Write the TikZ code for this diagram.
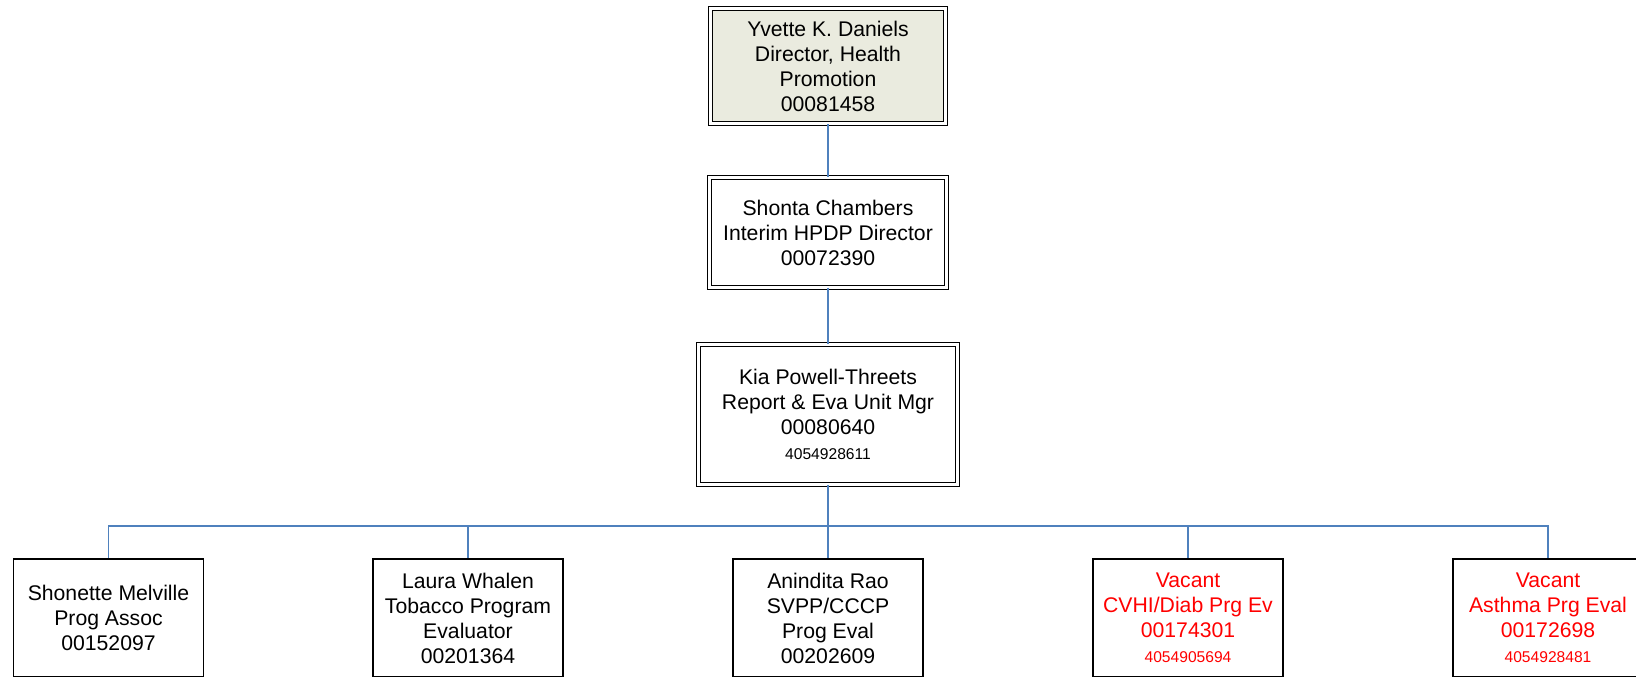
\documentclass[tikz,border=0pt]{standalone}
\usepackage{fontspec}
\setmainfont{Liberation Sans}
\definecolor{linkblue}{RGB}{79,129,189}
\definecolor{topfill}{RGB}{234,235,223}
\begin{document}
\begin{tikzpicture}[x=0.5pt,y=-0.5pt,
  every node/.style={font=\fontsize{10.6}{12.5}\selectfont, align=center, inner sep=0pt},
  dbox/.style={draw, line width=0.6pt, double=white, double distance=1.5pt},
  sbox/.style={draw, line width=0.9pt, minimum width=95pt, minimum height=59pt},
  vacant/.style={text=red},
  link/.style={draw=linkblue, line width=0.7pt}]
\useasboundingbox (0,0) rectangle (1636,676);
\clip (0,0) rectangle (1636,676);
\fill[white] (0,0) rectangle (1636,676);

\node[dbox, fill=topfill, minimum width=117.3pt, minimum height=57.3pt] (top) at (828,66)
  {Yvette K. Daniels\\Director, Health\\Promotion\\00081458};
\node[dbox, minimum width=118.3pt, minimum height=54.8pt] (mid) at (828,232.5)
  {Shonta Chambers\\Interim HPDP Director\\00072390};
\node[dbox, minimum width=129.3pt, minimum height=69.8pt] (mgr) at (828,414.5)
  {Kia Powell-Threets\\Report \& Eva Unit Mgr\\00080640\\{\fontsize{7.8}{9}\selectfont 4054928611}};

\node[sbox] (c1) at (108.5,618) {Shonette Melville\\Prog Assoc\\00152097};
\node[sbox] (c2) at (468,618) {Laura Whalen\\Tobacco Program\\Evaluator\\00201364};
\node[sbox] (c3) at (828,618) {Anindita Rao\\SVPP/CCCP\\Prog Eval\\00202609};
\node[sbox, vacant] (c4) at (1188,618) {Vacant\\CVHI/Diab Prg Ev\\00174301\\{\fontsize{7.8}{9}\selectfont 4054905694}};
\node[sbox, vacant] (c5) at (1548,618) {Vacant\\Asthma Prg Eval\\00172698\\{\fontsize{7.8}{9}\selectfont 4054928481}};

\coordinate (bus) at (828,526);
\draw[link] (top.south) -- (mid.north);
\draw[link] (mid.south) -- (mgr.north);
\draw[link, line width=1.1pt] (mgr.south) -- (bus);
\foreach \c in {c1,c2,c3,c4,c5}{
  \draw[link] (bus) -| (\c.north);
}
\end{tikzpicture}
\end{document}
